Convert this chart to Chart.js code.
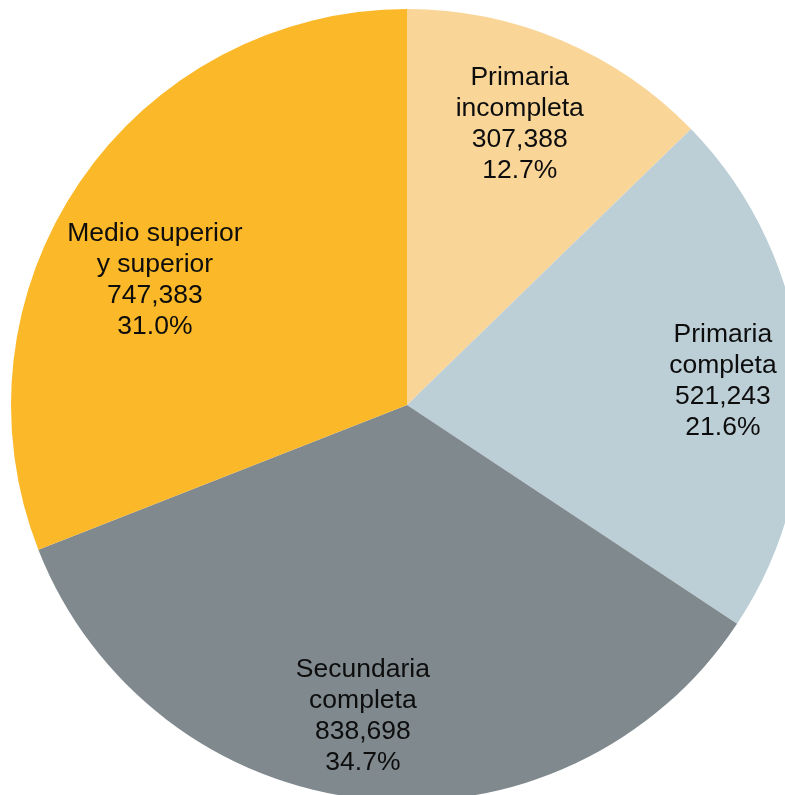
<!DOCTYPE html>
<html>
<head>
<meta charset="utf-8">
<script src="https://cdn.jsdelivr.net/npm/chart.js@4/dist/chart.umd.min.js"></script>
<style>
    html, body { margin: 0; padding: 0; background: #ffffff; overflow: hidden; }
    #wrap { position: relative; width: 785px; height: 795px; overflow: hidden; }
    #pieChart { position: absolute; left: 0; top: 0; }
</style>
</head>
<body>
<div id="wrap">
    <canvas id="pieChart" width="814" height="810" style="width:814px;height:810px"></canvas>
</div>
<script>
// Dati del grafico
const categories = [["Primaria", "incompleta"], ["Primaria", "completa"], ["Secundaria", "completa"], ["Medio superior", "y superior"]];
const values = [307388, 521243, 838698, 747383];
const percents = ["12.7%", "21.6%", "34.7%", "31.0%"];
const colors = ["#F9D598", "#BCCED6", "#7F898E", "#FBB829"];

// Posizione delle etichette: frazione del raggio e spostamento d'angolo (gradi)
const labelRadius = [0.763, 0.80, 0.795, 0.71];
const labelAngleShift = [-1, 1, 2, -8];

const sliceLabels = {
    id: "sliceLabels",
    afterDatasetsDraw(chart) {
        const ctx = chart.ctx;
        const meta = chart.getDatasetMeta(0);
        meta.data.forEach((arc, i) => {
            const p = arc.getProps(["x", "y", "startAngle", "endAngle", "outerRadius"], true);
            const mid = (p.startAngle + p.endAngle) / 2 + labelAngleShift[i] * Math.PI / 180;
            const r = p.outerRadius * labelRadius[i];
            const cx = p.x + Math.cos(mid) * r;
            const cy = p.y + Math.sin(mid) * r;
            const lines = categories[i].concat([values[i].toLocaleString("en-US"), percents[i]]);
            const lh = 31;
            ctx.save();
            ctx.fillStyle = "#0d0d0d";
            ctx.font = "25px 'Liberation Sans', Arial, sans-serif";
            ctx.textAlign = "center";
            ctx.textBaseline = "middle";
            lines.forEach((t, k) => {
                const y = cy + (k - (lines.length - 1) / 2) * lh;
                ctx.save();
                ctx.translate(cx, y);
                ctx.scale(1.06, 1);
                ctx.fillText(t, 0, 0);
                ctx.restore();
            });
            ctx.restore();
        });
    }
};

document.addEventListener("DOMContentLoaded", function () {
    const ctx = document.getElementById("pieChart").getContext("2d");
    new Chart(ctx, {
        type: "pie",
        data: {
            labels: categories.map(c => c.join(" ")),
            datasets: [{
                data: values,
                backgroundColor: colors,
                borderWidth: 0
            }]
        },
        options: {
            responsive: false,
            animation: false,
            layout: { padding: 9 },
            plugins: {
                legend: { display: false },
                tooltip: { enabled: false }
            }
        },
        plugins: [sliceLabels]
    });
});
</script>
</body>
</html>
